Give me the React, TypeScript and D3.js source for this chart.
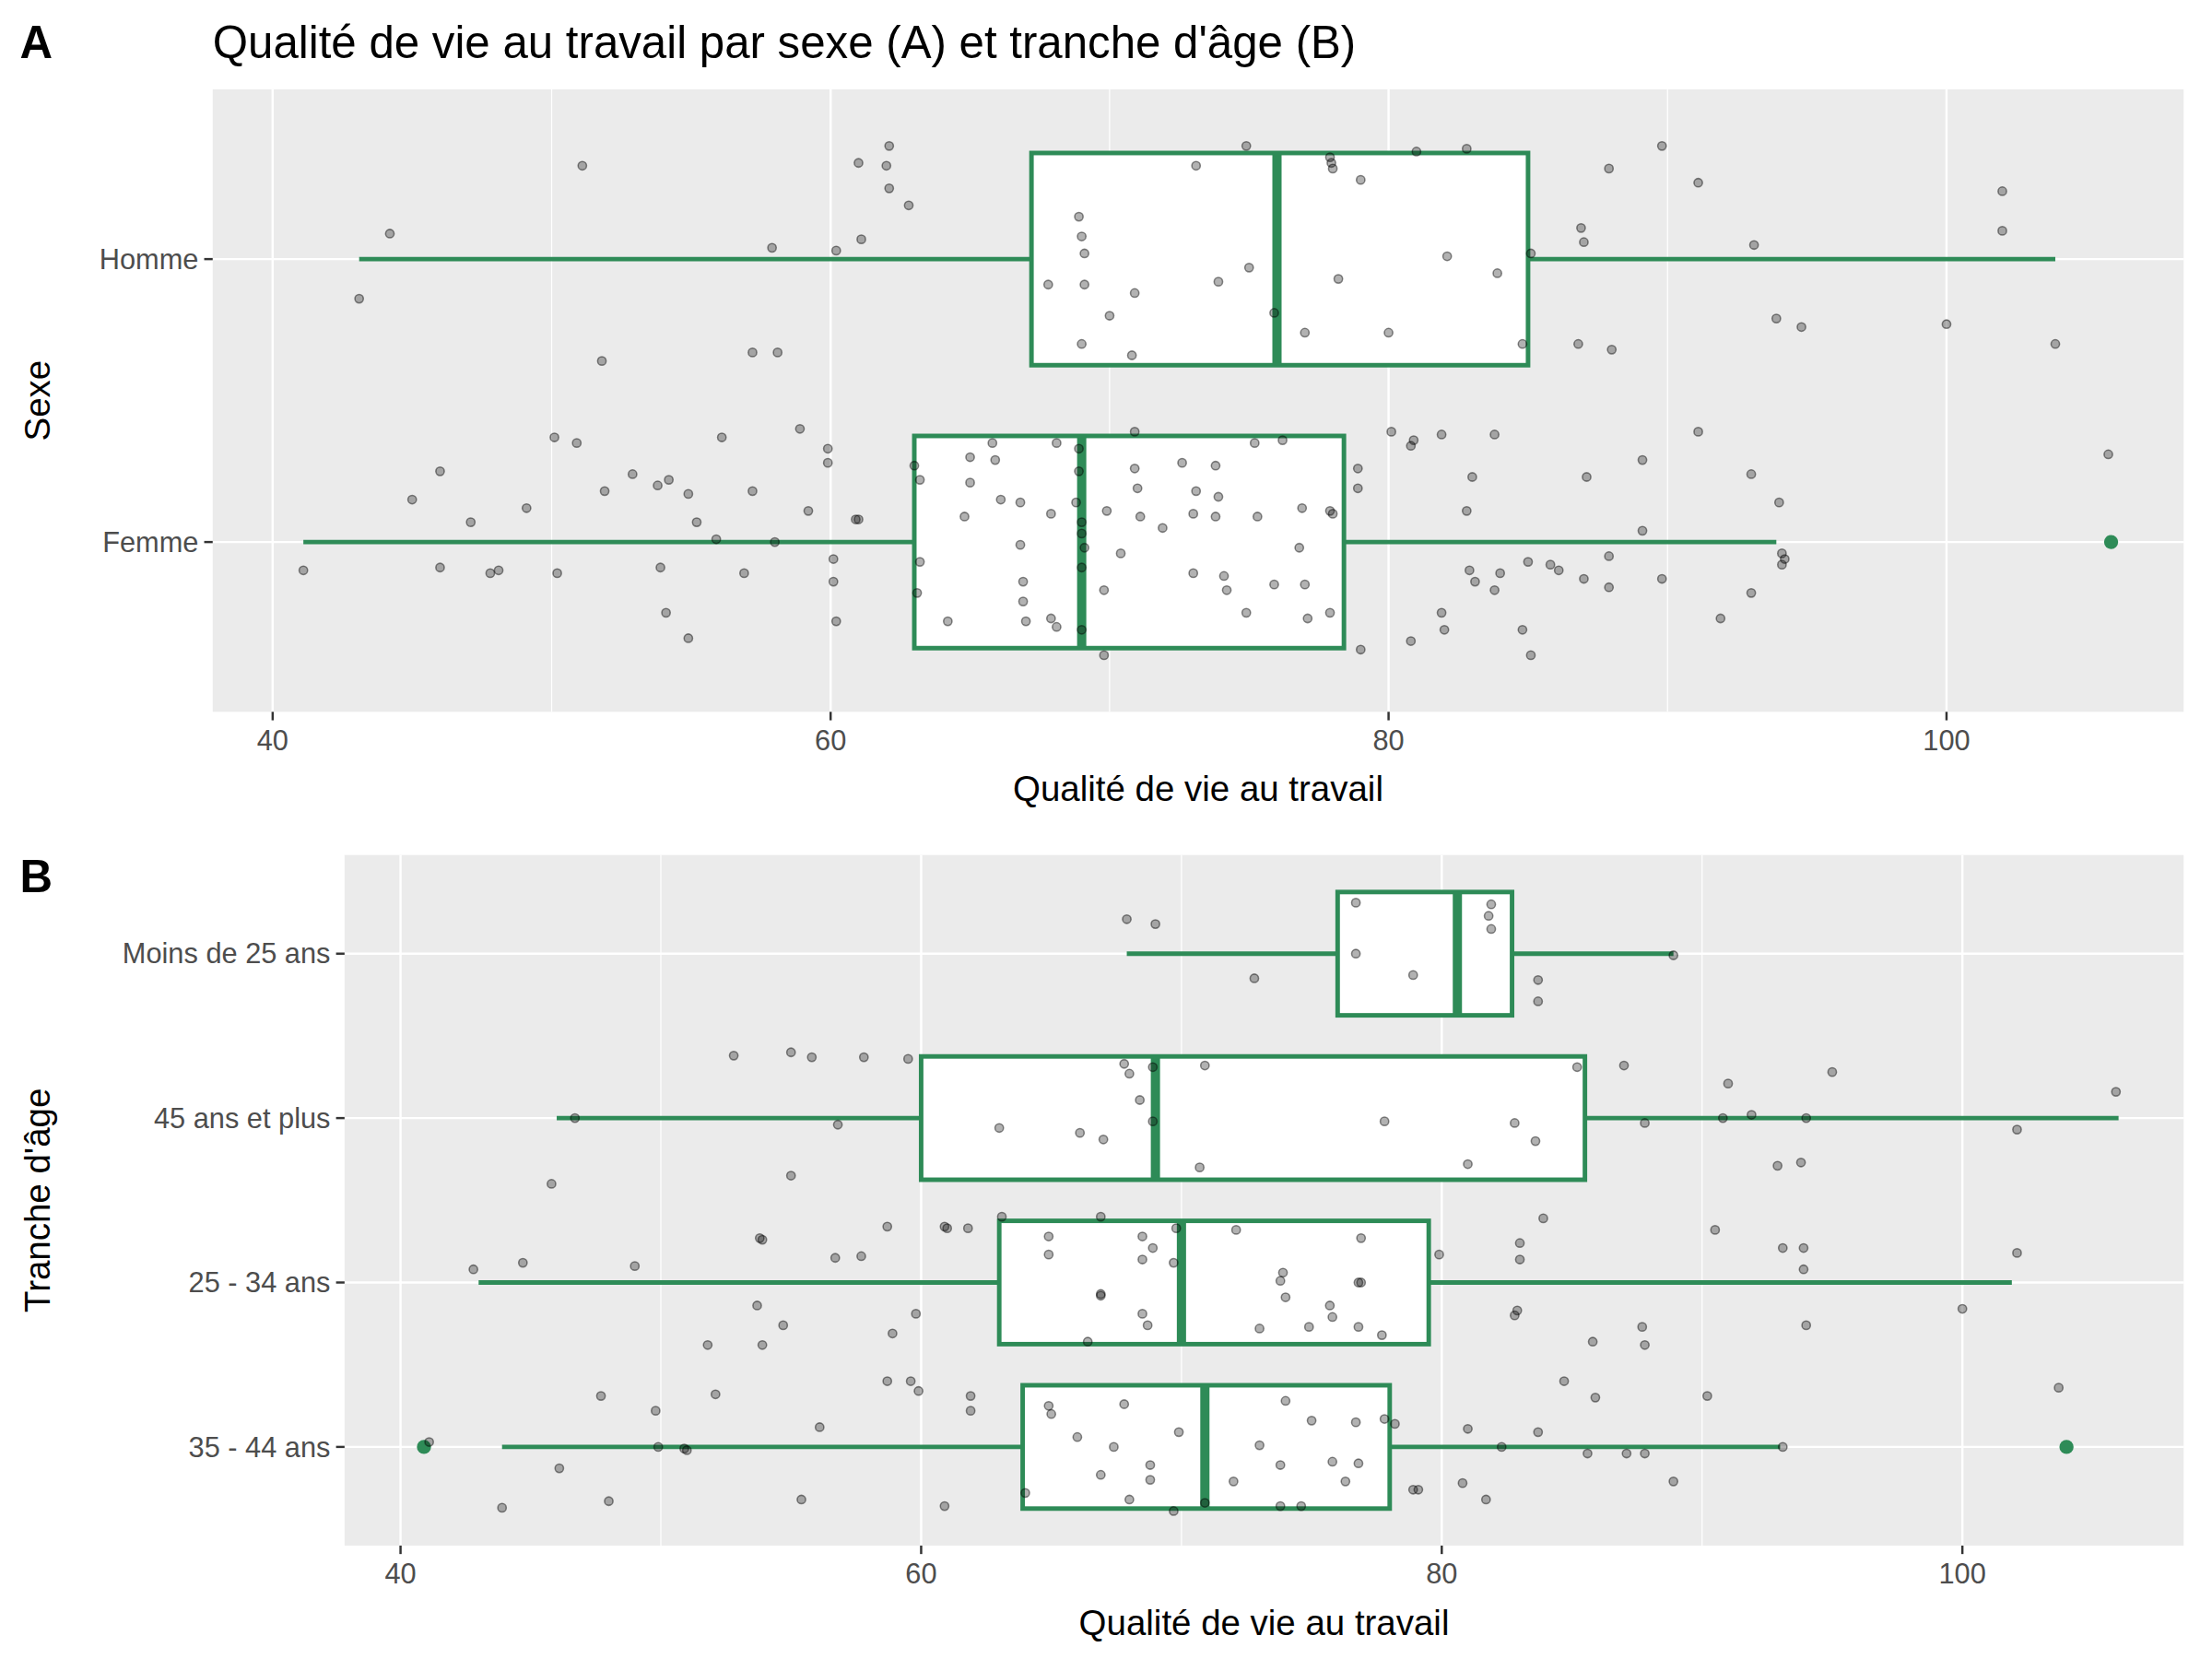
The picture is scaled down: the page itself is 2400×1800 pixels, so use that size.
import React from "react";
import * as d3 from "d3";

const sexCats = ["Homme", "Femme"];
const sexBoxes = [
  { lo: 43.1, q1: 67.2, med: 76.0, q3: 85.0, hi: 103.9, out: [] as number[] },
  { lo: 41.1, q1: 63.0, med: 69.0, q3: 78.4, hi: 93.9, out: [105.9] },
];
const hommePts: [number, number][] = [
  [44.2,-0.09],[43.1,0.14],[51.1,-0.33],[57.9,-0.04],[57.2,0.33],[58.1,0.33],[51.8,0.36],[60.2,-0.03],[61.1,-0.07],[61.0,-0.34],
  [62.1,-0.40],[62.0,-0.33],[62.1,-0.25],[62.8,-0.19],[68.9,-0.15],[69.0,-0.08],[69.1,-0.02],[67.8,0.09],[69.1,0.09],[70.0,0.20],
  [69.0,0.30],[70.8,0.34],[70.9,0.12],[73.1,-0.33],[73.9,0.08],[75.0,0.03],[74.9,-0.40],[75.9,0.19],[77.0,0.26],[77.9,-0.36],
  [78.0,-0.32],[79.0,-0.28],[78.2,0.07],[80.0,0.26],[81.0,-0.38],[82.8,-0.39],[82.1,-0.01],[83.9,0.05],[84.8,0.30],[85.1,-0.02],
  [86.9,-0.11],[87.0,-0.06],[87.9,-0.32],[86.8,0.30],[88.0,0.32],[89.8,-0.40],[91.1,-0.27],[93.1,-0.05],[93.9,0.21],[94.8,0.24],
  [100.0,0.23],[102.0,-0.24],[102.0,-0.10],[103.9,0.30],[77.95,-0.34],
];
const femmePts: [number, number][] = [
  [41.1,0.10],[45.0,-0.15],[46.0,-0.25],[46.0,0.09],[47.1,-0.07],[47.8,0.11],[48.1,0.10],[49.1,-0.12],[50.1,-0.37],[50.2,0.11],
  [50.9,-0.35],[51.9,-0.18],[52.9,-0.24],[53.8,-0.20],[54.2,-0.22],[53.9,0.09],[54.1,0.25],[54.9,-0.17],[55.2,-0.07],[54.9,0.34],
  [55.9,-0.01],[56.1,-0.37],[56.9,0.11],[57.2,-0.18],[58.0,0.00],[58.9,-0.40],[59.2,-0.11],[59.9,-0.33],[59.9,-0.28],[60.1,0.06],
  [60.1,0.14],[60.9,-0.08],[61.0,-0.08],[60.2,0.28],[63.0,-0.27],[63.2,-0.22],[63.2,0.07],[63.1,0.18],[64.2,0.28],[65.0,-0.30],
  [65.0,-0.21],[64.8,-0.09],[65.8,-0.35],[65.9,-0.29],[66.1,-0.15],[66.8,-0.14],[66.8,0.01],[66.9,0.14],[66.9,0.21],[67.0,0.28],
  [67.9,0.27],[68.1,0.30],[68.1,-0.35],[67.9,-0.10],[68.9,-0.33],[68.9,-0.25],[68.8,-0.14],[69.0,-0.07],[69.0,-0.03],[69.1,0.02],
  [69.0,0.09],[69.0,0.31],[69.8,0.40],[69.8,0.17],[69.9,-0.11],[70.4,0.04],[70.9,-0.39],[70.9,-0.26],[71.1,-0.09],[71.0,-0.19],
  [71.9,-0.05],[72.6,-0.28],[73.0,-0.10],[73.0,0.11],[73.1,-0.18],[73.8,-0.27],[73.8,-0.09],[73.9,-0.16],[74.1,0.12],[74.2,0.17],
  [74.9,0.25],[75.2,-0.35],[75.3,-0.09],[75.9,0.15],[76.2,-0.36],[76.9,-0.12],[76.8,0.02],[77.0,0.15],[77.1,0.27],[77.9,-0.11],
  [77.9,0.25],[78.0,-0.10],[78.9,-0.26],[78.9,-0.19],[79.0,0.38],[80.1,-0.39],[80.8,-0.34],[80.9,-0.36],[80.8,0.35],[81.9,-0.38],
  [81.9,0.25],[82.0,0.31],[82.8,-0.11],[83.0,-0.23],[82.9,0.10],[83.1,0.14],[83.8,-0.38],[83.8,0.17],[84.0,0.11],[85.0,0.07],
  [84.8,0.31],[85.1,0.40],[85.8,0.08],[86.1,0.10],[87.1,-0.23],[87.0,0.13],[87.9,0.05],[87.9,0.16],[89.1,-0.29],[89.1,-0.04],
  [89.8,0.13],[91.1,-0.39],[91.9,0.27],[93.0,-0.24],[93.0,0.18],[94.0,-0.14],[94.1,0.04],[94.2,0.06],[94.1,0.08],[105.8,-0.31],
];

const ageCats = ["Moins de 25 ans", "45 ans et plus", "25 - 34 ans", "35 - 44 ans"];
const ageBoxes = [
  { lo: 67.9, q1: 76.0, med: 80.6, q3: 82.7, hi: 88.9, out: [] as number[] },
  { lo: 46.0, q1: 60.0, med: 69.0, q3: 85.5, hi: 106.0, out: [] as number[] },
  { lo: 43.0, q1: 63.0, med: 70.0, q3: 79.5, hi: 101.9, out: [] as number[] },
  { lo: 43.9, q1: 63.9, med: 70.9, q3: 78.0, hi: 93.0, out: [40.9, 104.0] },
];
const moinsPts: [number, number][] = [
  [67.9,-0.21],[69.0,-0.18],[76.7,-0.31],[76.7,0.00],[78.9,0.13],[72.8,0.15],[81.9,-0.30],[81.8,-0.23],[81.9,-0.15],[83.7,0.16],[83.7,0.29],[88.9,0.01],
];
const plus45Pts: [number, number][] = [
  [52.8,-0.38],[55.0,-0.40],[55.8,-0.37],[57.8,-0.37],[59.5,-0.36],[56.8,0.04],[55.0,0.35],[45.8,0.40],[46.7,0.00],[63.0,0.06],
  [66.1,0.09],[67.8,-0.33],[68.0,-0.27],[68.4,-0.11],[68.9,-0.31],[68.9,0.02],[70.9,-0.32],[70.7,0.30],[77.8,0.02],[81.0,0.28],
  [82.8,0.03],[83.6,0.14],[85.2,-0.31],[87.0,-0.32],[87.8,0.03],[91.0,-0.21],[90.8,0.00],[91.9,-0.02],[94.0,0.00],[95.0,-0.28],
  [92.9,0.29],[93.8,0.27],[102.1,0.07],[105.9,-0.16],[67.0,0.13],
];
const a2534Pts: [number, number][] = [
  [42.8,-0.08],[44.7,-0.12],[49.0,-0.10],[51.8,0.38],[53.7,0.14],[53.9,0.38],[54.7,0.26],[53.8,-0.27],[53.9,-0.26],[56.7,-0.15],
  [57.7,-0.16],[58.7,-0.34],[58.9,0.31],[59.8,0.19],[60.9,-0.34],[61.0,-0.33],[61.8,-0.33],[63.1,-0.40],[64.9,-0.28],[64.9,-0.17],
  [66.4,0.36],[66.9,-0.40],[66.9,0.07],[66.9,0.08],[68.5,-0.28],[68.5,-0.14],[68.9,-0.21],[68.5,0.19],[68.7,0.26],[69.7,-0.12],
  [69.8,-0.33],[72.1,-0.32],[73.0,0.28],[73.9,-0.06],[74.0,0.09],[73.8,-0.01],[75.7,0.14],[75.8,0.21],[74.9,0.27],[76.9,-0.27],
  [76.8,0.00],[76.9,0.00],[76.8,0.27],[77.7,0.32],[79.9,-0.17],[83.0,-0.24],[83.0,-0.14],[82.9,0.17],[82.8,0.20],[83.9,-0.39],
  [85.8,0.36],[87.7,0.27],[87.8,0.38],[90.5,-0.32],[93.1,-0.21],[93.9,-0.21],[93.9,-0.08],[94.0,0.26],[100.0,0.16],[102.1,-0.18],
];
const a3544Pts: [number, number][] = [
  [41.1,-0.03],[43.9,0.37],[46.1,0.13],[47.7,-0.31],[48.0,0.33],[49.8,-0.22],[49.9,0.00],[50.9,0.01],[51.0,0.02],[52.1,-0.32],
  [55.4,0.32],[56.1,-0.12],[58.7,-0.40],[59.6,-0.40],[59.9,-0.34],[60.9,0.36],[61.9,-0.31],[61.9,-0.22],[64.0,0.28],[64.9,-0.25],
  [65.0,-0.20],[66.0,-0.06],[66.9,0.17],[68.0,0.32],[67.8,-0.26],[68.8,0.20],[68.8,0.11],[69.9,-0.09],[69.7,0.39],[70.9,0.34],
  [72.0,0.21],[73.0,-0.01],[73.8,0.11],[74.0,-0.28],[73.8,0.36],[75.0,-0.16],[75.8,0.09],[76.3,0.21],[76.7,-0.15],[76.8,0.10],
  [77.8,-0.17],[78.2,-0.14],[78.9,0.26],[79.1,0.26],[81.0,-0.11],[80.8,0.22],[81.7,0.32],[82.3,0.00],[83.7,-0.09],[84.7,-0.40],
  [85.9,-0.30],[85.6,0.04],[87.1,0.04],[87.8,0.04],[88.9,0.21],[90.2,-0.31],[93.1,0.00],[103.7,-0.36],[67.4,0.00],[74.6,0.36],
];
const xTicks = [40, 60, 80, 100];
const xMinor = [50, 70, 90];

const GREEN = "#2e8b57";
const FONT = "'Liberation Sans', Arial, sans-serif";

type Box = { lo: number; q1: number; med: number; q3: number; hi: number; out: number[] };

function Panel(props: {
  left: number; top: number; right: number; bottom: number;
  cats: string[]; boxes: Box[]; pts: [number, number][][];
  ytitle: string; letter: string; letterY: number; title?: string;
}) {
  const { left, top, right, bottom, cats, boxes, pts } = props;
  const x = d3.scaleLinear().domain([37.85, 108.5]).range([left, right]);
  const step = (bottom - top) / (cats.length - 1 + 1.2);
  const y = (i: number) => top + step * (i + 0.6);
  const bh = step * 0.75;
  return (
    <g>
      <rect x={left} y={top} width={right - left} height={bottom - top} fill="#ebebeb" />
      {xMinor.map((t) => (
        <line key={"m" + t} x1={x(t)} x2={x(t)} y1={top} y2={bottom} stroke="#fff" strokeWidth={0.8} />
      ))}
      {xTicks.map((t) => (
        <line key={"M" + t} x1={x(t)} x2={x(t)} y1={top} y2={bottom} stroke="#fff" strokeWidth={1.6} />
      ))}
      {cats.map((c, i) => (
        <line key={c} x1={left} x2={right} y1={y(i)} y2={y(i)} stroke="#fff" strokeWidth={1.6} />
      ))}
      {boxes.map((b, i) => (
        <g key={i} stroke={GREEN}>
          <line x1={x(b.lo)} x2={x(b.q1)} y1={y(i)} y2={y(i)} strokeWidth={3.2} />
          <line x1={x(b.q3)} x2={x(b.hi)} y1={y(i)} y2={y(i)} strokeWidth={3.2} />
          <rect x={x(b.q1)} y={y(i) - bh / 2} width={x(b.q3) - x(b.q1)} height={bh} fill="#fff" strokeWidth={3.2} />
          <line x1={x(b.med)} x2={x(b.med)} y1={y(i) - bh / 2} y2={y(i) + bh / 2} strokeWidth={6.5} />
          {b.out.map((o, k) => (
            <circle key={k} cx={x(o)} cy={y(i)} r={5} fill={GREEN} stroke="none" />
          ))}
        </g>
      ))}
      {pts.map((arr, i) =>
        arr.map((p, k) => (
          <circle key={i + "-" + k} cx={x(p[0])} cy={y(i) + p[1] * step} r={3}
            fill="rgba(0,0,0,0.3)" stroke="rgba(0,0,0,0.45)" strokeWidth={1} />
        ))
      )}
      {cats.map((c, i) => (
        <g key={"l" + c}>
          <line x1={left - 6} x2={left} y1={y(i)} y2={y(i)} stroke="#333" strokeWidth={1.6} />
          <text x={left - 10} y={y(i)} dy="0.35em" textAnchor="end" fontSize={20} fill="#4d4d4d" fontFamily={FONT}>{c}</text>
        </g>
      ))}
      {xTicks.map((t) => (
        <g key={"t" + t}>
          <line x1={x(t)} x2={x(t)} y1={bottom} y2={bottom + 6} stroke="#333" strokeWidth={1.6} />
          <text x={x(t)} y={bottom + 27} textAnchor="middle" fontSize={20} fill="#4d4d4d" fontFamily={FONT}>{t}</text>
        </g>
      ))}
      <text x={(left + right) / 2} y={bottom + 63} textAnchor="middle" fontSize={25} fill="#000" fontFamily={FONT}>Qualité de vie au travail</text>
      <text transform={`translate(35,${(top + bottom) / 2}) rotate(-90)`} textAnchor="middle" fontSize={25} fill="#000" fontFamily={FONT}>{props.ytitle}</text>
      <text x={14} y={props.letterY} fontSize={32} fontWeight="bold" fill="#000" fontFamily={FONT}>{props.letter}</text>
      {props.title && (
        <text x={left} y={props.letterY} fontSize={32} fill="#000" fontFamily={FONT}>{props.title}</text>
      )}
    </g>
  );
}

export default function App() {
  return (
    <svg width={2400} height={1800} viewBox="0 0 1560 1170"
      style={{ position: "absolute", left: 0, top: 0, background: "#fff" }}>
      <rect width={1560} height={1170} fill="#fff" />
      <Panel left={150} top={63} right={1540} bottom={502} cats={sexCats} boxes={sexBoxes}
        pts={[hommePts, femmePts]} ytitle="Sexe" letter="A" letterY={41}
        title="Qualité de vie au travail par sexe (A) et tranche d'âge (B)" />
      <Panel left={243} top={603} right={1540} bottom={1090} cats={ageCats} boxes={ageBoxes}
        pts={[moinsPts, plus45Pts, a2534Pts, a3544Pts]} ytitle="Tranche d'âge" letter="B" letterY={629} />
    </svg>
  );
}
